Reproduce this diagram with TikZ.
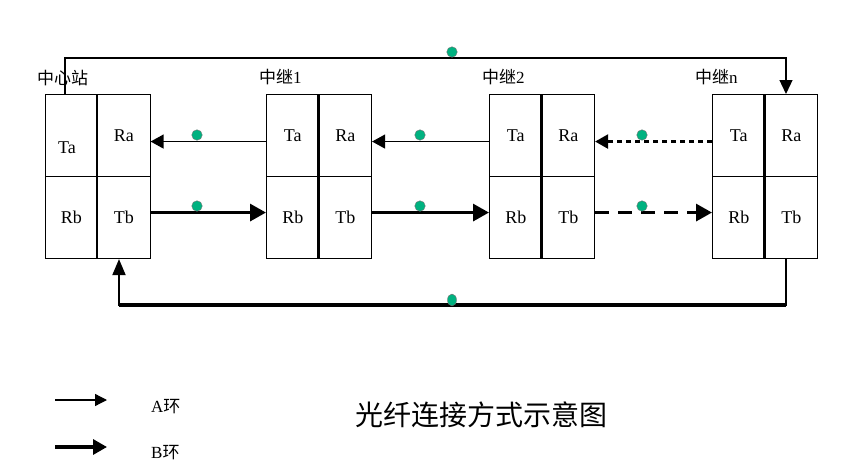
\documentclass[tikz,border=0pt]{standalone}
\usepackage{fontspec}
\setmainfont{Liberation Serif}
\newfontfamily\cjk{Noto Sans CJK SC}
\usetikzlibrary{arrows.meta,shapes.geometric}
\definecolor{dotgreen}{RGB}{0,178,128}
\begin{document}
\begin{tikzpicture}[x=1pt,y=-1pt,
  cell/.style={draw,line width=1.1pt,minimum width=52.5pt,minimum height=82pt,inner sep=0pt,anchor=north west,font=\fontsize{18}{18}\selectfont},
  divider/.style={line width=2.2pt},
  thinarrow/.style={line width=1.3pt,-{Triangle[length=13pt,width=14pt]}},
  thickarrow/.style={line width=3.2pt,-{Triangle[length=16pt,width=17pt]}},
  dot/.style={circle,fill=dotgreen,draw=black!55,line width=0.4pt,minimum size=10.5pt,inner sep=0pt},
  station/.style={anchor=west,inner sep=0pt,font=\fontsize{17}{17}\selectfont},
  legend/.style={anchor=west,inner sep=0pt,font=\fontsize{17}{17}\selectfont}]
\fill[white] (0,0) rectangle (852,471);
\useasboundingbox (0,0) rectangle (852,471);

\foreach \i/\x in {1/44.5,2/266,3/489,4/712}{
  \node[cell] (c\i Ta) at (\x,94) {\ifnum\i=1\else Ta\fi};
  \node[cell] (c\i Ra) at (\x+52.5,94) {Ra};
  \node[cell] (c\i Rb) at (\x,176) {Rb};
  \node[cell] (c\i Tb) at (\x+52.5,176) {Tb};
  \draw[divider] (c\i Ra.north west) -- (c\i Tb.south west);
}
\node[font=\fontsize{18}{18}\selectfont,inner sep=0pt] (c1Tatext) at (67,148) {Ta};

% station labels
\node[station] (s1) at (37,78) {\cjk 中心站};
\node[station] (s2) at (259,77) {{\cjk 中继}1};
\node[station] (s3) at (482,77) {{\cjk 中继}2};
\node[station] (s4) at (695,77) {{\cjk 中继}n};

% A ring (upper) connectors
\draw[thinarrow] ([yshift=-6pt]c2Ta.west) -- ([yshift=-6pt]c1Ra.east);
\draw[thinarrow] ([yshift=-6pt]c3Ta.west) -- ([yshift=-6pt]c2Ra.east);
\draw[thinarrow,line width=2.3pt,dash pattern=on 5pt off 4pt] ([yshift=-6pt]c4Ta.west) -- ([yshift=-6pt]c3Ra.east);

% B ring (lower) connectors
\draw[thickarrow] ([yshift=5pt]c1Tb.east) -- ([yshift=5pt]c2Rb.west);
\draw[thickarrow] ([yshift=5pt]c2Tb.east) -- ([yshift=5pt]c3Rb.west);
\draw[thickarrow,dash pattern=on 14pt off 9pt] ([yshift=5pt]c3Tb.east) -- ([yshift=5pt]c4Rb.west);

% top loop
\coordinate (tl) at (65,58);
\coordinate (tr) at (786,58);
\draw[line width=1.3pt,-{Triangle[length=14pt,width=13pt]}] (c1Ta.north -| tl) -- (tl) -- (tr) -- (c4Ra.north -| tr);

% bottom loop
\coordinate (bl) at (119,305);
\coordinate (br) at (786,305);
\draw[line width=2pt,-{Triangle[length=16pt,width=13pt]}] (c4Tb.south -| br) -- (br) -- (bl) -- (c1Tb.south -| bl);
\draw[line width=3.4pt] (br) -- (bl);

% dots
\node[dot] (d0) at (452,52) {};
\node[dot] (d1) at (197,135) {};
\node[dot] (d2) at (420,135) {};
\node[dot] (d3) at (642,135) {};
\node[dot] (d4) at (197,206) {};
\node[dot] (d5) at (420,206) {};
\node[dot] (d6) at (642,206) {};
\node[dot,ellipse,minimum size=0pt,minimum width=9pt,minimum height=12pt] (d7) at (452,300) {};

% legend
\coordinate (la1) at (55,400);
\coordinate (la2) at (107,400);
\coordinate (lb1) at (55,447);
\coordinate (lb2) at (107,447);
\draw[line width=1.3pt,-{Triangle[length=12pt,width=12pt]}] (la1) -- (la2);
\draw[line width=3.2pt,-{Triangle[length=14pt,width=15pt]}] (lb1) -- (lb2);
\node[legend] (ta) at (151,407) {A{\cjk 环}};
\node[legend] (tb) at (151,453) {B{\cjk 环}};

\node[inner sep=0pt,font=\fontsize{28}{28}\selectfont\cjk] (title) at (481,415) {光纤连接方式示意图};
\end{tikzpicture}
\end{document}
